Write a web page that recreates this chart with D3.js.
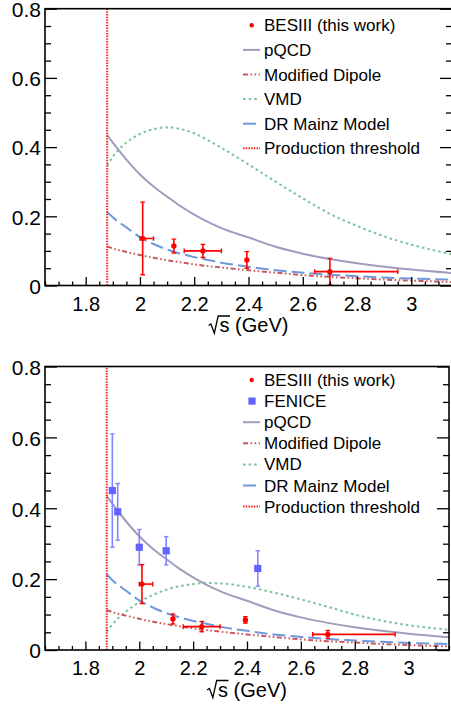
<!DOCTYPE html>
<html>
<head>
<meta charset="utf-8">
<script src="https://cdn.jsdelivr.net/npm/d3@7"></script>
<style>
  html, body { margin: 0; padding: 0; background: #fff; }
  svg { display: block; font-family: "Liberation Sans", Arial, Helvetica, sans-serif; }
</style>
</head>
<body>
<svg id="chart" width="451" height="706"></svg>
<script>
// ---- model curves, sampled on a common sqrt(s) grid (GeV) ----
const sqrtS    = [1.879, 1.90, 1.95, 2.00, 2.05, 2.10, 2.15, 2.20, 2.25, 2.30, 2.40, 2.50, 2.60, 2.70, 2.80, 2.90, 3.00, 3.15];
const pqcd     = [0.435, 0.413, 0.364, 0.321, 0.286, 0.257, 0.229, 0.205, 0.184, 0.166, 0.139, 0.112, 0.092, 0.0765, 0.064, 0.054, 0.046, 0.036];
const dipole   = [0.113, 0.107, 0.097, 0.088, 0.080, 0.073, 0.067, 0.061, 0.056, 0.052, 0.044, 0.037, 0.030, 0.025, 0.021, 0.017, 0.014, 0.010];
const drMainz  = [0.213, 0.197, 0.168, 0.140, 0.120, 0.104, 0.092, 0.082, 0.074, 0.066, 0.054, 0.044, 0.037, 0.031, 0.027, 0.023, 0.020, 0.017];
const vmdTop   = [0.346, 0.372, 0.413, 0.438, 0.452, 0.457, 0.452, 0.440, 0.420, 0.398, 0.350, 0.300, 0.252, 0.207, 0.172, 0.142, 0.118, 0.090];
const vmdBot   = [0.051, 0.072, 0.108, 0.135, 0.155, 0.170, 0.180, 0.186, 0.189, 0.188, 0.178, 0.162, 0.143, 0.122, 0.100, 0.083, 0.070, 0.057];
const threshold = 1.8791;

// ---- BESIII measurements ----
const besS      = [2.010, 2.125, 2.232, 2.394, 2.700];
const besXLo    = [2.000, null, 2.163, null, 2.644];
const besXHi    = [2.050, null, 2.300, null, 2.950];
const besTop    = [0.136, 0.114, 0.100, 0.074, 0.040];
const besTopErr = [0.105, 0.020, 0.019, 0.024, 0.038];
const besBot    = [0.186, 0.0875, 0.066, 0.085, 0.044];
const besBotErr = [0.055, 0.014, 0.0145, 0.009, 0.011];

// ---- FENICE measurements ----
const feniceS   = [1.90, 1.92, 2.00, 2.10, 2.44];
const feniceVal = [0.45, 0.39, 0.29, 0.28, 0.23];
const feniceErr = [0.16, 0.08, 0.05, 0.04, 0.05];

// ---- axes ----
const xTicks      = [1.8, 2.0, 2.2, 2.4, 2.6, 2.8, 3.0];
const xTickLabels = ["1.8", "2", "2.2", "2.4", "2.6", "2.8", "3"];
const yTicks      = [0, 0.2, 0.4, 0.6, 0.8];
const yTickLabels = ["0", "0.2", "0.4", "0.6", "0.8"];
const xDomain = [1.65, 3.15];
const yDomain = [0, 0.8];

// ---- legend entries ----
const legendTop = ["BESIII (this work)", "pQCD", "Modified Dipole", "VMD", "DR Mainz Model", "Production threshold"];
const legendBot = ["BESIII (this work)", "FENICE", "pQCD", "Modified Dipole", "VMD", "DR Mainz Model", "Production threshold"];

// ---- styles ----
const styles = {
  "pQCD":                 { stroke: "#a09cbd", dash: null },
  "Modified Dipole":      { stroke: "#c95a5c", dash: "5,2.5,1.6,2.5,1.6,2.5" },
  "VMD":                  { stroke: "#7cc49e", dash: "2.6,3" },
  "DR Mainz Model":       { stroke: "#6f98dc", dash: "13,5" },
  "Production threshold": { stroke: "#ff2020", dash: "1.5,1.2" }
};
const besColor = "#ff0000";
const feniceColor = "#6262ff";
const feniceBarColor = "#8484ff";

const svg = d3.select("#chart");

function drawPanel(cfg, idx) {
  const x = d3.scaleLinear().domain(xDomain).range([cfg.left, cfg.right]);
  const y = d3.scaleLinear().domain(yDomain).range([cfg.bottom, cfg.top]);
  const g = svg.append("g");

  const clipId = "clip" + idx;
  svg.append("clipPath").attr("id", clipId)
    .append("rect")
    .attr("x", cfg.left).attr("y", cfg.top)
    .attr("width", cfg.right - cfg.left).attr("height", cfg.bottom - cfg.top);

  const plot = g.append("g").attr("clip-path", `url(#${clipId})`);

  // model curves
  const line = d3.line().x(d => x(d[0])).y(d => y(d[1])).curve(d3.curveMonotoneX);
  const curves = [
    ["VMD", cfg.vmd],
    ["pQCD", pqcd],
    ["DR Mainz Model", drMainz],
    ["Modified Dipole", dipole]
  ];
  curves.forEach(([name, vals]) => {
    const st = styles[name];
    plot.append("path")
      .datum(sqrtS.map((s, i) => [s, vals[i]]))
      .attr("d", line)
      .attr("fill", "none")
      .attr("stroke", st.stroke)
      .attr("stroke-width", 2)
      .attr("stroke-dasharray", st.dash);
  });

  // production threshold
  const th = styles["Production threshold"];
  plot.append("line")
    .attr("x1", x(threshold)).attr("x2", x(threshold))
    .attr("y1", y(yDomain[0])).attr("y2", y(yDomain[1]))
    .attr("stroke", th.stroke).attr("stroke-width", 2)
    .attr("stroke-dasharray", th.dash);

  // FENICE points
  if (cfg.fenice) {
    feniceS.forEach((s, i) => {
      const cx = x(s), v = feniceVal[i], e = feniceErr[i];
      const y1 = y(v - e), y2 = y(v + e);
      plot.append("line").attr("x1", cx).attr("x2", cx).attr("y1", y1).attr("y2", y2)
        .attr("stroke", feniceBarColor).attr("stroke-width", 1.6);
      [y1, y2].forEach(yy => plot.append("line")
        .attr("x1", cx - 2.2).attr("x2", cx + 2.2).attr("y1", yy).attr("y2", yy)
        .attr("stroke", feniceBarColor).attr("stroke-width", 1.4));
      plot.append("rect").attr("x", cx - 3.6).attr("y", y(v) - 3.6)
        .attr("width", 7.2).attr("height", 7.2).attr("fill", feniceColor);
    });
  }

  // BESIII points
  besS.forEach((s, i) => {
    const cx = x(s), v = cfg.bes[i], e = cfg.besErr[i];
    const cy = y(v);
    const y1 = Math.min(y(v - e), cfg.bottom), y2 = y(v + e);
    plot.append("line").attr("x1", cx).attr("x2", cx).attr("y1", y1).attr("y2", y2)
      .attr("stroke", besColor).attr("stroke-width", 1.6);
    [y1, y2].forEach(yy => plot.append("line")
      .attr("x1", cx - 2.3).attr("x2", cx + 2.3).attr("y1", yy).attr("y2", yy)
      .attr("stroke", besColor).attr("stroke-width", 1.4));
    if (besXLo[i] !== null) {
      const x1 = x(besXLo[i]), x2 = x(besXHi[i]);
      plot.append("line").attr("x1", x1).attr("x2", x2).attr("y1", cy).attr("y2", cy)
        .attr("stroke", besColor).attr("stroke-width", 1.6);
      [x1, x2].forEach(xx => plot.append("line")
        .attr("x1", xx).attr("x2", xx).attr("y1", cy - 2.3).attr("y2", cy + 2.3)
        .attr("stroke", besColor).attr("stroke-width", 1.4));
    }
    plot.append("circle").attr("cx", cx).attr("cy", cy).attr("r", 2.7).attr("fill", besColor);
  });

  // axes: minor and major ticks pointing inwards
  const xMinor = d3.range(1.65, 3.1501, 0.05).filter(t => !xTicks.some(m => Math.abs(m - t) < 1e-6));
  const yMinor = d3.range(0, 0.8001, 0.05).filter(t => !yTicks.some(m => Math.abs(m - t) < 1e-6));

  const axisStyle = sel => {
    sel.select(".domain").remove();
    sel.selectAll(".tick line").attr("stroke", "#000").attr("stroke-width", 1.3);
  };

  g.append("g").attr("transform", `translate(0,${cfg.bottom})`)
    .call(d3.axisBottom(x).tickValues(xMinor).tickSize(-4).tickFormat(""))
    .call(axisStyle);
  g.append("g").attr("transform", `translate(0,${cfg.bottom})`)
    .call(d3.axisBottom(x).tickValues(xTicks).tickSize(-8.5).tickPadding(11)
      .tickFormat((d, i) => xTickLabels[i]))
    .call(axisStyle)
    .call(sel => sel.selectAll("text").attr("fill", "#000")
      .style("font-size", "20px").style("font-family", "'Liberation Sans', Arial, sans-serif"));

  g.append("g").attr("transform", `translate(${cfg.left},0)`)
    .call(d3.axisLeft(y).tickValues(yMinor).tickSize(-6).tickFormat(""))
    .call(axisStyle);
  g.append("g").attr("transform", `translate(${cfg.left},0)`)
    .call(d3.axisLeft(y).tickValues(yTicks).tickSize(-12).tickPadding(4)
      .tickFormat((d, i) => yTickLabels[i]))
    .call(axisStyle)
    .call(sel => sel.selectAll("text").attr("fill", "#000").attr("dy", "0.37em")
      .style("font-size", "21px").style("font-family", "'Liberation Sans', Arial, sans-serif"));

  g.append("g").attr("transform", `translate(${cfg.right},0)`)
    .call(d3.axisRight(y).tickValues(yMinor).tickSize(-6).tickFormat(""))
    .call(axisStyle);
  g.append("g").attr("transform", `translate(${cfg.right},0)`)
    .call(d3.axisRight(y).tickValues(yTicks).tickSize(-12).tickFormat(""))
    .call(axisStyle);

  // frame
  g.append("rect")
    .attr("x", cfg.left).attr("y", cfg.top)
    .attr("width", cfg.right - cfg.left).attr("height", cfg.bottom - cfg.top)
    .attr("fill", "none").attr("stroke", "#000").attr("stroke-width", 1.6);

  // axis title: sqrt(s) (GeV)
  const title = g.append("g");
  const yb = cfg.bottom + 46.5;
  const txt = title.append("text")
    .attr("y", yb).attr("fill", "#000")
    .style("font-size", "20px")
    .text("s (GeV)");
  const tw = txt.node().getComputedTextLength();
  const radW = 11;
  const total = radW + tw;
  const x0 = (cfg.left + cfg.right) / 2 - total / 2;
  txt.attr("x", x0 + radW);
  const sW = 10.5;
  title.append("path")
    .attr("d", `M${x0},${yb - 6.5} L${x0 + 2.4},${yb - 8} L${x0 + 5.8},${yb + 1.2} L${x0 + 9.6},${yb - 16} L${x0 + radW + sW},${yb - 16}`)
    .attr("fill", "none").attr("stroke", "#000").attr("stroke-width", 1.3)
    .attr("stroke-linejoin", "miter");

  // legend
  const leg = g.append("g");
  cfg.legend.forEach((name, i) => {
    const cy = cfg.legY0 + i * cfg.legDy;
    leg.append("text")
      .attr("x", 264).attr("y", cy + 6)
      .attr("fill", "#000").style("font-size", "17px")
      .text(name);
    if (name === "BESIII (this work)") {
      leg.append("circle").attr("cx", 251.7).attr("cy", cy).attr("r", 2.2).attr("fill", besColor);
    } else if (name === "FENICE") {
      leg.append("rect").attr("x", 252 - 3.6).attr("y", cy - 3.6)
        .attr("width", 7.2).attr("height", 7.2).attr("fill", feniceColor);
    } else {
      const st = styles[name];
      leg.append("line")
        .attr("x1", 243).attr("x2", 260).attr("y1", cy).attr("y2", cy)
        .attr("stroke", st.stroke).attr("stroke-width", 2)
        .attr("stroke-dasharray", st.dash);
    }
  });
}

const panels = [
  { left: 45, right: 452, top: 8.7, bottom: 285.5, vmd: vmdTop, bes: besTop, besErr: besTopErr,
    fenice: false, legend: legendTop, legY0: 25.3, legDy: 24.6 },
  { left: 45, right: 449, top: 366.5, bottom: 650, vmd: vmdBot, bes: besBot, besErr: besBotErr,
    fenice: true, legend: legendBot, legY0: 380, legDy: 21.1 }
];
panels.forEach(drawPanel);
</script>
</body>
</html>
